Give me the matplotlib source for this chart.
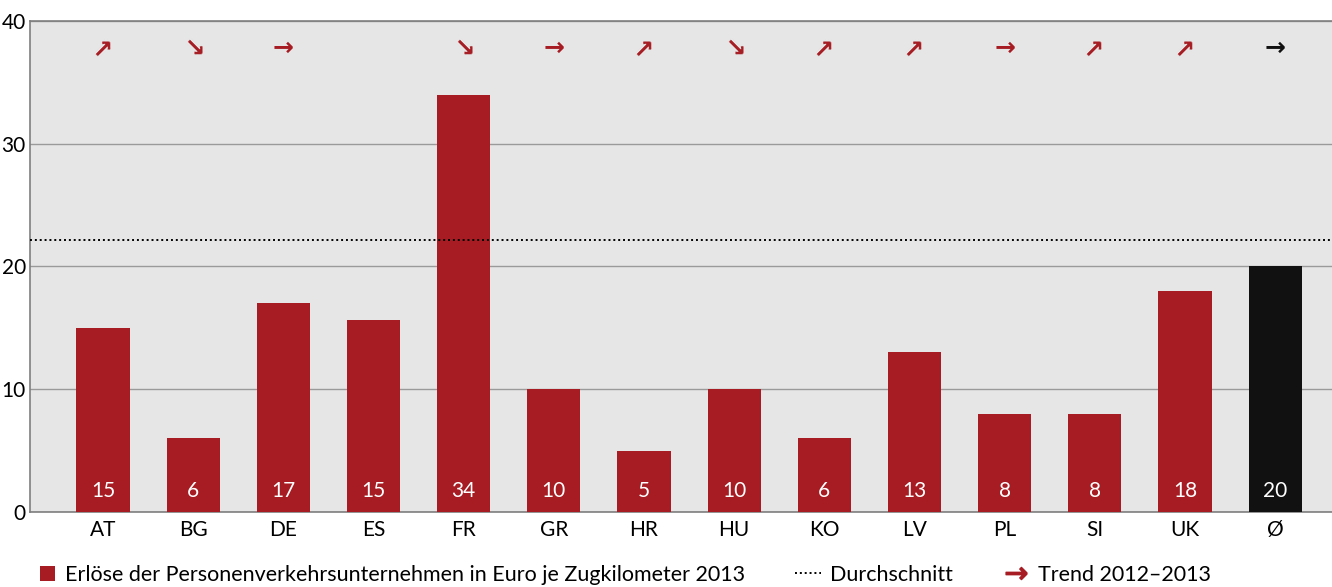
import matplotlib.pyplot as plt
from matplotlib.patches import Patch, Rectangle
from matplotlib.lines import Line2D
from matplotlib.legend_handler import HandlerPatch

plt.rcParams['font.family'] = ['Lato', 'DejaVu Sans']

countries = ['AT', 'BG', 'DE', 'ES', 'FR', 'GR', 'HR', 'HU', 'KO', 'LV', 'PL', 'SI', 'UK', 'Ø']
revenue = [15, 6, 17, 15.6, 34, 10, 5, 10, 6, 13, 8, 8, 18, 20]
labels = ['15', '6', '17', '15', '34', '10', '5', '10', '6', '13', '8', '8', '18', '20']
# trend 2012-2013: 1 up, 0 flat, -1 down, None = no data
trend = [1, -1, 0, None, -1, 0, 1, -1, 1, 1, 0, 1, 1, 0]
average = 22.2

red = '#a61c22'
black = '#111111'
colors = [red] * 13 + [black]

fig = plt.figure(figsize=(13.32, 5.87), dpi=100)
ax = fig.add_axes([0.0225, 0.128, 0.9775, 0.836])
ax.set_facecolor('#e6e6e6')

x = list(range(len(countries)))
ax.bar(x, revenue, width=0.59, color=colors, zorder=3)
ax.axhline(average, color='black', linestyle=(0, (1, 1.5)), linewidth=1.4, zorder=4)

for xi, lab in zip(x, labels):
    ax.text(xi, 1.7, lab, ha='center', va='center', color='white', fontsize=15, zorder=5)

for xi, t in enumerate(trend):
    if t is None:
        continue
    c = black if xi == len(countries) - 1 else red
    ax.text(xi, 37.8, '→', rotation=45 * t, ha='center', va='center', color=c,
            fontsize=18, fontweight='bold', family='DejaVu Sans', zorder=5)

ax.set_ylim(0, 40)
ax.set_xlim(-0.81, 13.63)
ax.set_yticks([0, 10, 20, 30, 40])
ax.set_xticks(x)
ax.set_xticklabels(countries)
ax.tick_params(length=0, labelsize=15, pad=6)
ax.tick_params(axis='y', pad=3)
ax.yaxis.grid(True, color='#9a9a9a', linewidth=1, zorder=1)
ax.set_axisbelow(True)
for s in ['left', 'top', 'bottom']:
    ax.spines[s].set_color('#7f7f7f')
    ax.spines[s].set_linewidth(1.2)
ax.spines['right'].set_visible(False)


def square_patch(legend, orig_handle, xdescent, ydescent, width, height, fontsize):
    side = 10.8
    return Rectangle((-xdescent + 7.6, -ydescent + (height - side) / 2), side, side)


handles = [
    Patch(facecolor=red),
    Line2D([], [], color='black', linestyle=(0, (1, 1.5)), linewidth=1.4),
    Line2D([], [], color=red, marker='$→$', linestyle='none', markersize=15),
]
names = ['Erlöse der Personenverkehrsunternehmen in Euro je Zugkilometer 2013',
         'Durchschnitt', 'Trend 2012–2013']
fig.legend(handles, names, loc='lower left', bbox_to_anchor=(0.0077, -0.03), ncol=3,
           frameon=False, fontsize=15.5, columnspacing=2.3, handlelength=1.2,
           handletextpad=0.45, handleheight=0.8,
           handler_map={Patch: HandlerPatch(patch_func=square_patch)})

fig.savefig('out.png', dpi=100)
